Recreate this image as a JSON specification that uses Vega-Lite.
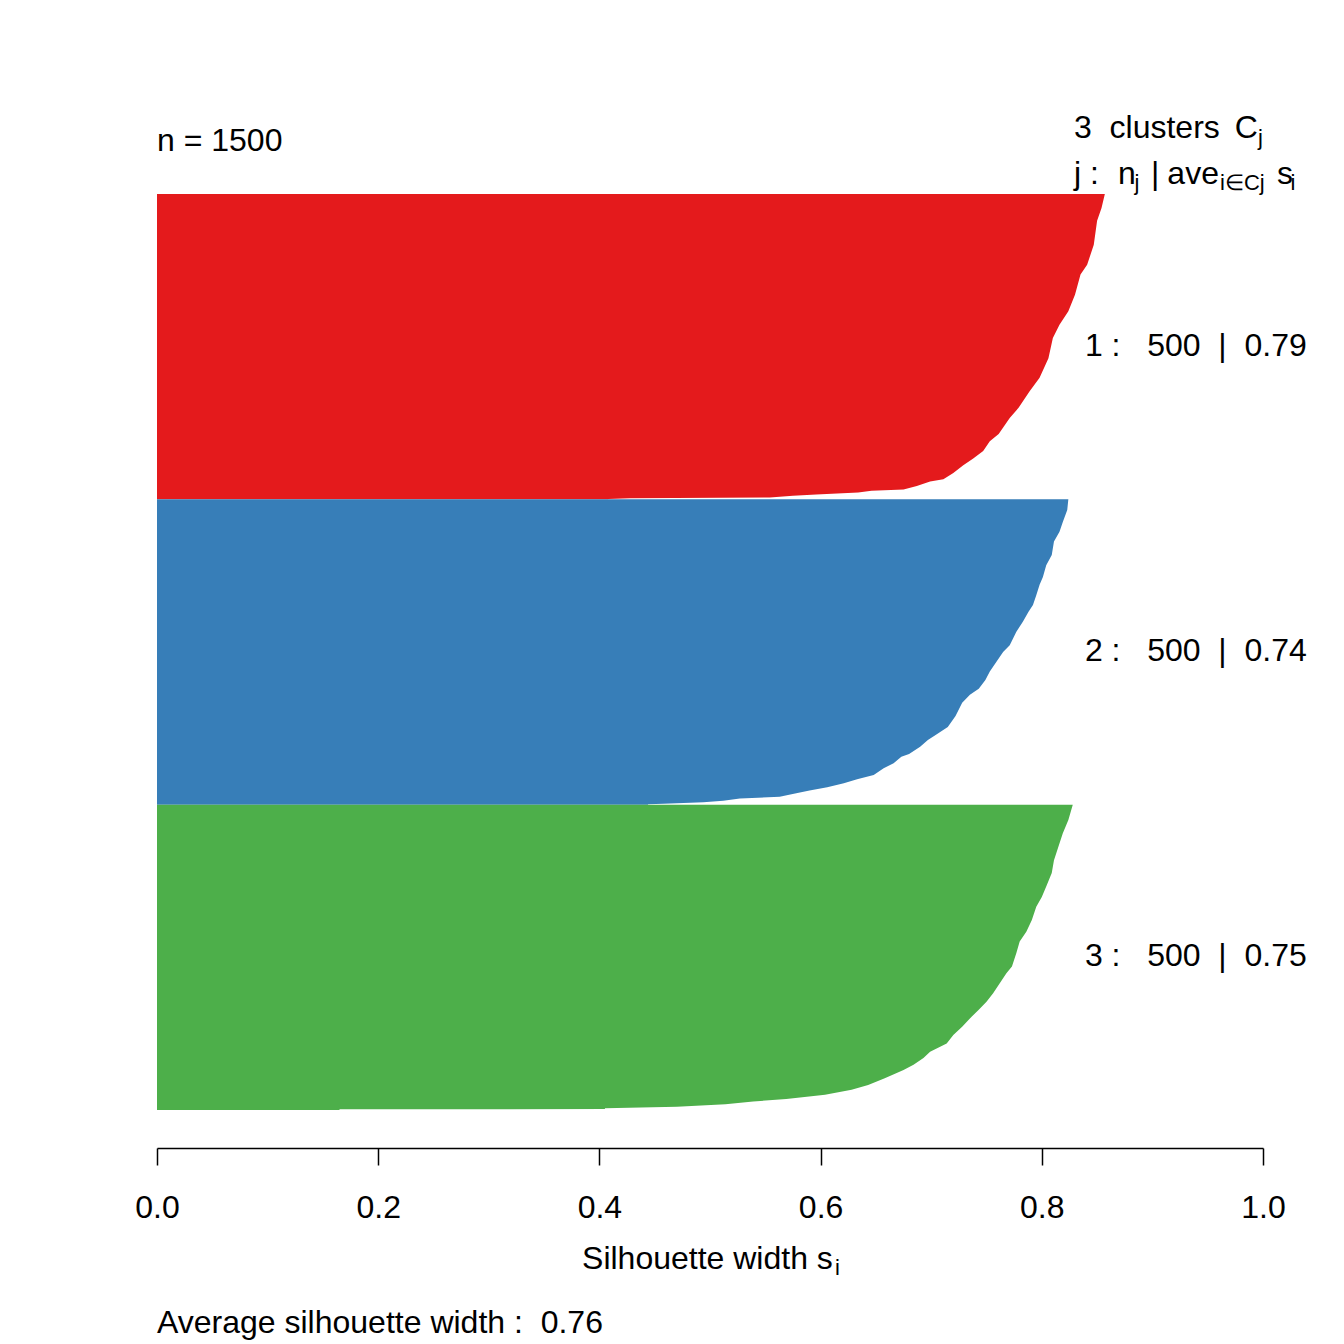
{
  "$schema": "https://vega.github.io/schema/vega-lite/v6.json",
  "width": 1106,
  "height": 916,
  "autosize": {"type": "none"},
  "padding": {"left": 157, "top": 194, "right": 81, "bottom": 234},
  "background": "white",
  "config": {"view": {"stroke": null}},
  "datasets": {
    "sil": [
      {"c": "1", "i": 0, "s": 0.857}, {"c": "1", "i": 23, "s": 0.854}, {"c": "1", "i": 44, "s": 0.850}, {"c": "1", "i": 83, "s": 0.847},
      {"c": "1", "i": 116, "s": 0.841}, {"c": "1", "i": 132, "s": 0.835}, {"c": "1", "i": 165, "s": 0.830}, {"c": "1", "i": 192, "s": 0.824},
      {"c": "1", "i": 214, "s": 0.816}, {"c": "1", "i": 236, "s": 0.810}, {"c": "1", "i": 269, "s": 0.806}, {"c": "1", "i": 301, "s": 0.798},
      {"c": "1", "i": 323, "s": 0.789}, {"c": "1", "i": 350, "s": 0.779}, {"c": "1", "i": 367, "s": 0.771}, {"c": "1", "i": 393, "s": 0.761},
      {"c": "1", "i": 405, "s": 0.753}, {"c": "1", "i": 421, "s": 0.747}, {"c": "1", "i": 433, "s": 0.738}, {"c": "1", "i": 444, "s": 0.729},
      {"c": "1", "i": 457, "s": 0.720}, {"c": "1", "i": 467, "s": 0.711}, {"c": "1", "i": 471, "s": 0.699}, {"c": "1", "i": 478, "s": 0.687},
      {"c": "1", "i": 484, "s": 0.675}, {"c": "1", "i": 486, "s": 0.646}, {"c": "1", "i": 489, "s": 0.634}, {"c": "1", "i": 492, "s": 0.596},
      {"c": "1", "i": 494, "s": 0.575}, {"c": "1", "i": 497, "s": 0.554}, {"c": "1", "i": 498.4, "s": 0.428}, {"c": "1", "i": 499.3, "s": 0.408},
      {"c": "1", "i": 500, "s": 0.408},
      {"c": "2", "i": 500, "s": 0.824}, {"c": "2", "i": 517.5, "s": 0.823}, {"c": "2", "i": 537, "s": 0.819}, {"c": "2", "i": 553, "s": 0.816},
      {"c": "2", "i": 569, "s": 0.811}, {"c": "2", "i": 591, "s": 0.809}, {"c": "2", "i": 608, "s": 0.804}, {"c": "2", "i": 627, "s": 0.801},
      {"c": "2", "i": 640, "s": 0.798}, {"c": "2", "i": 657, "s": 0.795}, {"c": "2", "i": 673, "s": 0.792}, {"c": "2", "i": 684, "s": 0.788},
      {"c": "2", "i": 700, "s": 0.783}, {"c": "2", "i": 717, "s": 0.777}, {"c": "2", "i": 739, "s": 0.771}, {"c": "2", "i": 750, "s": 0.765},
      {"c": "2", "i": 766, "s": 0.759}, {"c": "2", "i": 782, "s": 0.753}, {"c": "2", "i": 796, "s": 0.749}, {"c": "2", "i": 810, "s": 0.743},
      {"c": "2", "i": 820, "s": 0.735}, {"c": "2", "i": 833, "s": 0.728}, {"c": "2", "i": 855, "s": 0.722}, {"c": "2", "i": 873, "s": 0.715},
      {"c": "2", "i": 886, "s": 0.704}, {"c": "2", "i": 894, "s": 0.697}, {"c": "2", "i": 905, "s": 0.690}, {"c": "2", "i": 917, "s": 0.680},
      {"c": "2", "i": 921.5, "s": 0.673}, {"c": "2", "i": 932, "s": 0.666}, {"c": "2", "i": 940.5, "s": 0.657}, {"c": "2", "i": 951.5, "s": 0.648},
      {"c": "2", "i": 958.5, "s": 0.633}, {"c": "2", "i": 965, "s": 0.621}, {"c": "2", "i": 971.6, "s": 0.606}, {"c": "2", "i": 977, "s": 0.590},
      {"c": "2", "i": 981.5, "s": 0.578}, {"c": "2", "i": 987, "s": 0.563}, {"c": "2", "i": 990, "s": 0.527}, {"c": "2", "i": 993.6, "s": 0.512},
      {"c": "2", "i": 996, "s": 0.494}, {"c": "2", "i": 998.5, "s": 0.458}, {"c": "2", "i": 999.5, "s": 0.444}, {"c": "2", "i": 1000, "s": 0.444},
      {"c": "3", "i": 1000, "s": 0.828}, {"c": "3", "i": 1025, "s": 0.824}, {"c": "3", "i": 1047, "s": 0.819}, {"c": "3", "i": 1069, "s": 0.815},
      {"c": "3", "i": 1091, "s": 0.811}, {"c": "3", "i": 1112, "s": 0.809}, {"c": "3", "i": 1134, "s": 0.804}, {"c": "3", "i": 1151, "s": 0.800},
      {"c": "3", "i": 1167, "s": 0.795}, {"c": "3", "i": 1189, "s": 0.791}, {"c": "3", "i": 1208, "s": 0.786}, {"c": "3", "i": 1224, "s": 0.780},
      {"c": "3", "i": 1243, "s": 0.777}, {"c": "3", "i": 1265, "s": 0.773}, {"c": "3", "i": 1276, "s": 0.768}, {"c": "3", "i": 1292.5, "s": 0.762},
      {"c": "3", "i": 1309, "s": 0.756}, {"c": "3", "i": 1322.6, "s": 0.750}, {"c": "3", "i": 1336, "s": 0.743}, {"c": "3", "i": 1350, "s": 0.735},
      {"c": "3", "i": 1363.5, "s": 0.728}, {"c": "3", "i": 1377, "s": 0.720}, {"c": "3", "i": 1391, "s": 0.714}, {"c": "3", "i": 1404.5, "s": 0.699},
      {"c": "3", "i": 1415, "s": 0.693}, {"c": "3", "i": 1426, "s": 0.684}, {"c": "3", "i": 1434.5, "s": 0.675}, {"c": "3", "i": 1448, "s": 0.658},
      {"c": "3", "i": 1459, "s": 0.643}, {"c": "3", "i": 1467, "s": 0.628}, {"c": "3", "i": 1475, "s": 0.604}, {"c": "3", "i": 1482, "s": 0.569},
      {"c": "3", "i": 1486, "s": 0.539}, {"c": "3", "i": 1490.6, "s": 0.514}, {"c": "3", "i": 1494.6, "s": 0.470}, {"c": "3", "i": 1497.2, "s": 0.405},
      {"c": "3", "i": 1498.5, "s": 0.405}, {"c": "3", "i": 1498.7, "s": 0.165}, {"c": "3", "i": 1500, "s": 0.165}
    ],
    "clab": [
      {"t": "1 :\u00a0\u00a0\u00a0500\u00a0\u00a0|\u00a0\u00a00.79", "x": 0.839, "y": 250},
      {"t": "2 :\u00a0\u00a0\u00a0500\u00a0\u00a0|\u00a0\u00a00.74", "x": 0.839, "y": 750},
      {"t": "3 :\u00a0\u00a0\u00a0500\u00a0\u00a0|\u00a0\u00a00.75", "x": 0.839, "y": 1250}
    ],
    "big": [
      {"t": "n = 1500", "x": 0.0, "y": -70.4},
      {"t": "3\u00a0\u00a0clusters", "x": 0.8291, "y": -90.9},
      {"t": "C", "x": 0.9745, "y": -90.9},
      {"t": "j :", "x": 0.8291, "y": -16.4},
      {"t": "n", "x": 0.8689, "y": -16.4},
      {"t": "|", "x": 0.8987, "y": -16.4},
      {"t": "ave", "x": 0.9135, "y": -16.4},
      {"t": "s", "x": 1.0127, "y": -16.4},
      {"t": "Silhouette width s", "x": 0.3843, "y": 1760.4},
      {"t": "Average silhouette width :\u00a0\u00a00.76", "x": 0.0, "y": 1865.2}
    ],
    "small": [
      {"t": "j", "x": 0.9955, "y": -79.5},
      {"t": "j", "x": 0.8838, "y": -6.6},
      {"t": "i\u2208Cj", "x": 0.9612, "y": -6.6},
      {"t": "i", "x": 1.0249, "y": -6.6},
      {"t": "i", "x": 0.6130, "y": 1770.3}
    ]
  },
  "layer": [
    {
      "data": {"name": "sil"},
      "mark": {"type": "area", "orient": "horizontal", "interpolate": "linear"},
      "encoding": {
        "x": {
          "field": "s", "type": "quantitative",
          "scale": {"domain": [0, 1], "nice": false, "zero": true},
          "axis": {
            "title": null, "values": [0, 0.2, 0.4, 0.6, 0.8, 1.0], "format": ".1f",
            "offset": 38, "tickSize": 17, "labelPadding": 27,
            "labelFontSize": 32, "labelFont": "Liberation Sans", "labelColor": "black",
            "domainColor": "black", "tickColor": "black", "domainWidth": 1.5, "tickWidth": 1.5,
            "grid": false, "labelFlush": false, "labelOverlap": false, "labelBound": false
          }
        },
        "x2": {"datum": 0},
        "y": {
          "field": "i", "type": "quantitative",
          "scale": {"domain": [0, 1500], "reverse": true, "nice": false, "zero": false},
          "axis": null
        },
        "color": {
          "field": "c", "type": "nominal",
          "scale": {"domain": ["1", "2", "3"], "range": ["#E41A1C", "#377EB8", "#4DAF4A"]},
          "legend": null
        }
      }
    },
    {
      "data": {"name": "clab"},
      "mark": {"type": "text", "align": "left", "baseline": "alphabetic", "dy": 9, "fontSize": 32, "font": "Liberation Sans", "color": "black"},
      "encoding": {
        "x": {"field": "x", "type": "quantitative", "title": null},
        "y": {"field": "y", "type": "quantitative", "axis": null},
        "text": {"field": "t"}
      }
    },
    {
      "data": {"name": "big"},
      "mark": {"type": "text", "align": "left", "baseline": "alphabetic", "fontSize": 32, "font": "Liberation Sans", "color": "black"},
      "encoding": {
        "x": {"field": "x", "type": "quantitative", "title": null},
        "y": {"field": "y", "type": "quantitative", "axis": null},
        "text": {"field": "t"}
      }
    },
    {
      "data": {"name": "small"},
      "mark": {"type": "text", "align": "left", "baseline": "alphabetic", "fontSize": 22, "font": "Liberation Sans", "color": "black"},
      "encoding": {
        "x": {"field": "x", "type": "quantitative", "title": null},
        "y": {"field": "y", "type": "quantitative", "axis": null},
        "text": {"field": "t"}
      }
    }
  ]
}
